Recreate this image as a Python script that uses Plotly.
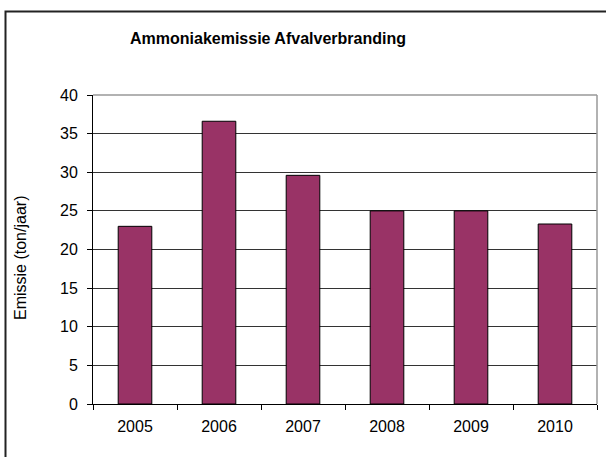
import plotly.graph_objects as go

# Ammonia emission from waste incineration, tonnes per year
years = ["2005", "2006", "2007", "2008", "2009", "2010"]
emissie = [23.0, 36.6, 29.6, 25.0, 25.0, 23.3]
y_ticks = [0, 5, 10, 15, 20, 25, 30, 35, 40]

FONT = "Liberation Sans, Arial, sans-serif"

fig = go.Figure(
    go.Bar(
        x=years,
        y=emissie,
        marker=dict(color="#993366", line=dict(color="#000000", width=1)),
        hoverinfo="x+y",
    )
)

W, H = 606, 457
L, R, T, B = 93, 9, 95, 53
pw, ph = W - L - R, H - T - B


def px_x(p):
    return (p - L) / pw


def px_y(p):
    return (H - B - p) / ph


fig.update_layout(
    width=W,
    height=H,
    margin=dict(l=L, r=R, t=T, b=B, pad=0),
    paper_bgcolor="#ffffff",
    plot_bgcolor="#ffffff",
    bargap=0.6,
    showlegend=False,
    font=dict(family=FONT, size=16, color="#000000"),
    xaxis=dict(
        type="category",
        showline=True,
        linecolor="#000000",
        linewidth=1,
        ticks="outside",
        tickson="boundaries",
        ticklen=5,
        tickcolor="#000000",
        showgrid=False,
        ticklabelstandoff=8,
        tickfont=dict(size=16),
        fixedrange=True,
    ),
    yaxis=dict(
        range=[0, 40],
        tickvals=y_ticks,
        showline=True,
        linecolor="#000000",
        linewidth=1,
        ticks="outside",
        ticklen=5,
        tickcolor="#000000",
        showgrid=True,
        gridcolor="#333333",
        gridwidth=1,
        zeroline=False,
        ticklabelstandoff=6,
        tickfont=dict(size=16),
        fixedrange=True,
    ),
    shapes=[
        # chart frame
        dict(type="rect", xref="paper", yref="paper",
             x0=px_x(5.5), x1=px_x(640), y0=px_y(500), y1=px_y(11.5),
             line=dict(color="#222222", width=2), layer="below"),
        # plot area border (top and right)
        dict(type="line", xref="paper", yref="paper",
             x0=0, x1=1, y0=1, y1=1, line=dict(color="#999999", width=1.5)),
        dict(type="line", xref="paper", yref="paper",
             x0=1, x1=1, y0=0, y1=1, line=dict(color="#999999", width=1.5)),
    ],
    annotations=[
        dict(text="<b>Ammoniakemissie Afvalverbranding</b>",
             xref="paper", yref="paper", x=px_x(268), y=px_y(38),
             xanchor="center", yanchor="middle", showarrow=False,
             font=dict(family=FONT, size=16, color="#000000")),
        dict(text="Emissie (ton/jaar)",
             xref="paper", yref="paper", x=px_x(20), y=px_y(258),
             xanchor="center", yanchor="middle", textangle=-90,
             showarrow=False,
             font=dict(family=FONT, size=16, color="#000000")),
    ],
)

fig.write_html("out.html")
